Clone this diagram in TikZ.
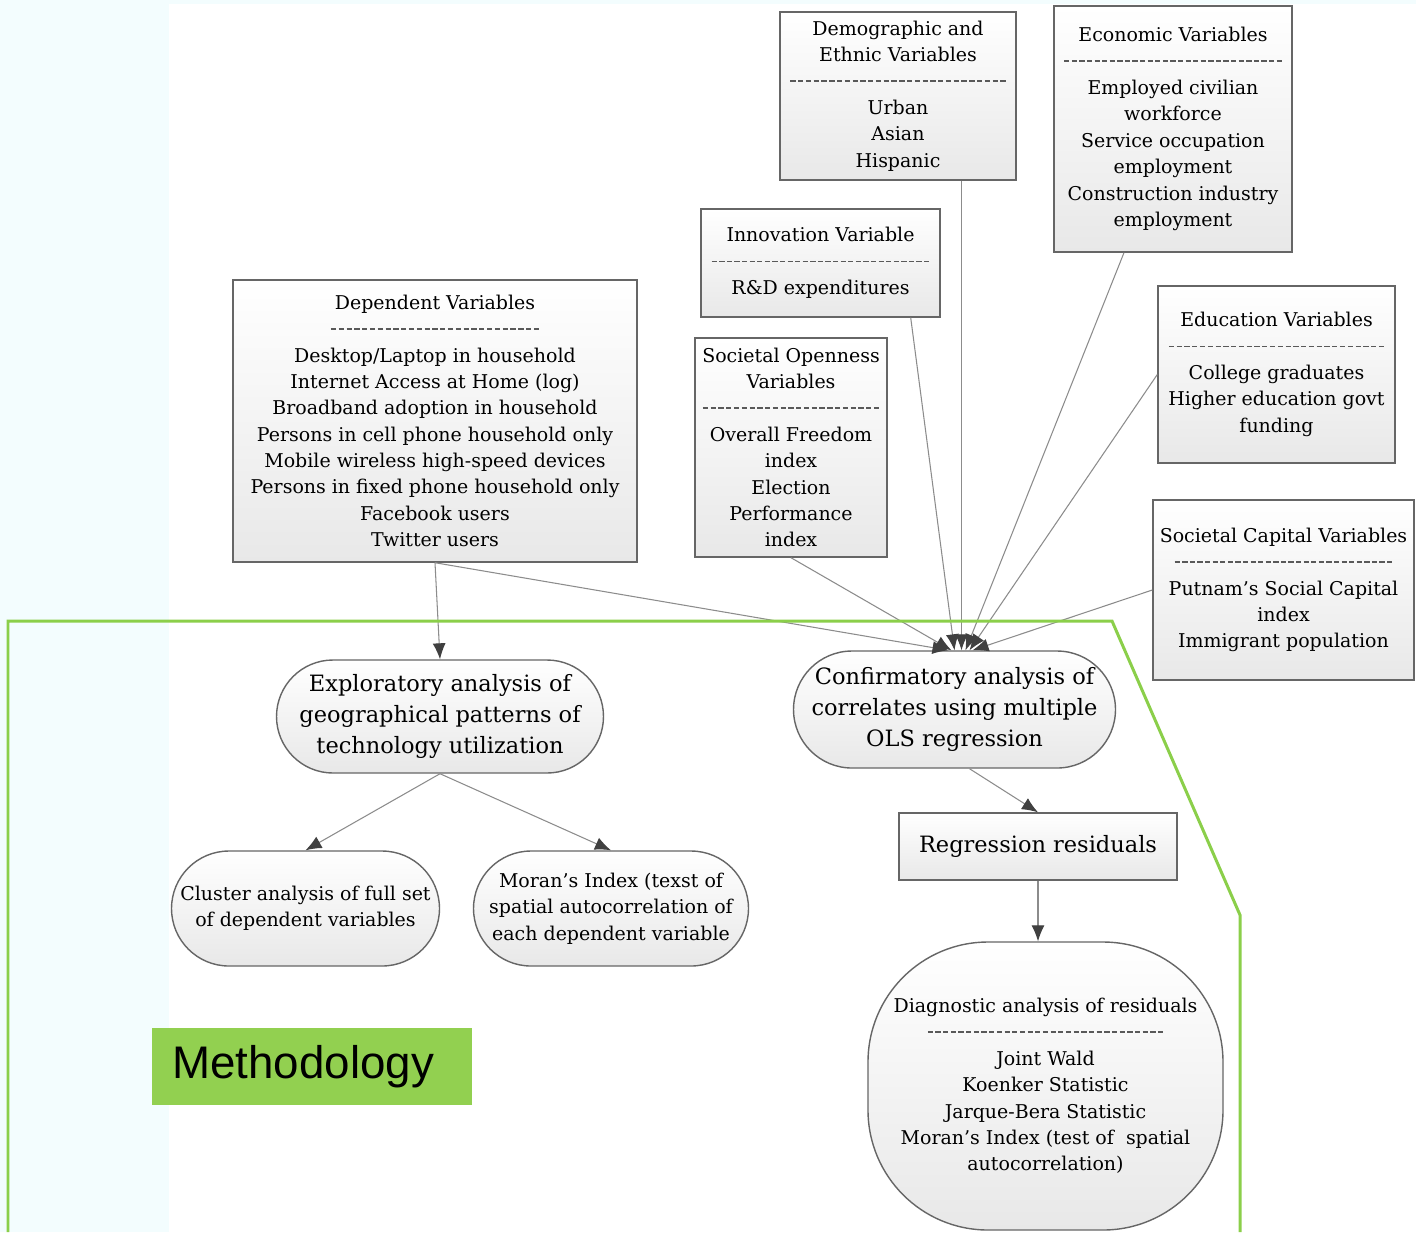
\documentclass[tikz,border=0pt]{standalone}
\usepackage{fontspec}
\setmainfont{DejaVu Serif}
\setsansfont{Liberation Sans}
\usetikzlibrary{arrows.meta,shapes.misc}

\definecolor{methgreen}{HTML}{92D050}
\definecolor{framegreen}{HTML}{8BCF4A}
\definecolor{paleblue}{HTML}{F3FDFE}
\newcommand{\sepline}[1]{\hbox to #1{\color{black!65}\xleaders\hbox to 4.3pt{\hss\rule[3.4pt]{3pt}{1pt}\hss}\hfill}}

\begin{document}
\begin{tikzpicture}[yscale=-1,
    varbox/.style={rectangle, draw=black!60, line width=0.8pt, top color=white, bottom color=black!9, align=center, inner sep=2pt, font=\fontsize{10.8}{15}\selectfont},
    ovalbox/.style={rounded rectangle, draw=black!60, line width=0.8pt, top color=white, bottom color=black!9, align=center, inner sep=2pt, font=\fontsize{10.8}{15}\selectfont},
    bigtext/.style={font=\fontsize{12.8}{17.6}\selectfont},
    methbox/.style={fill=methgreen, font=\sffamily\fontsize{26}{30}\selectfont, text width=5.6cm, align=left, inner xsep=0.4cm, inner ysep=0pt, minimum height=1.54cm},
    link/.style={draw=black!45, line width=0.6pt},
    arrow/.style={link, -{Latex[length=3.2mm, width=2.6mm, color=black!75]}}]
    \useasboundingbox (0,0) rectangle (28.32,24.64);
    \fill [white] (0,0) rectangle (28.32,24.64);
    \fill [paleblue] (0,0) rectangle (3.38,24.64);
    \fill [paleblue] (0,0) rectangle (28.32,0.08);

    \node [varbox, minimum width=8.08cm, minimum height=5.64cm] (dep) at (8.70,8.42) {Dependent Variables\\\sepline{4.22cm}\\Desktop/Laptop in household\\Internet Access at Home (log)\\Broadband adoption in household\\Persons in cell phone household only\\Mobile wireless high-speed devices\\Persons in fixed phone household only\\Facebook users\\Twitter users};
    \node [varbox, minimum width=4.72cm, minimum height=3.36cm] (dem) at (17.96,1.92) {Demographic and\\Ethnic Variables\\\sepline{4.36cm}\\Urban\\Asian\\Hispanic};
    \node [varbox, minimum width=4.76cm, minimum height=4.92cm] (econ) at (23.46,2.58) {Economic Variables\\\sepline{4.40cm}\\Employed civilian\\workforce\\Service occupation\\employment\\Construction industry\\employment};
    \node [varbox, minimum width=4.78cm, minimum height=2.16cm] (innov) at (16.41,5.26) {Innovation Variable\\\sepline{4.40cm}\\R\&D expenditures};
    \node [varbox, minimum width=4.74cm, minimum height=3.54cm] (edu) at (25.53,7.49) {Education Variables\\\sepline{4.36cm}\\College graduates\\Higher education govt\\funding};
    \node [varbox, minimum width=3.84cm, minimum height=4.38cm] (open) at (15.82,8.95) {Societal Openness\\Variables\\\sepline{3.58cm}\\Overall Freedom\\index\\Election\\Performance\\index};
    \node [varbox, minimum width=5.22cm, minimum height=3.60cm] (scap) at (25.67,11.80) {Societal Capital Variables\\\sepline{4.40cm}\\Putnam’s Social Capital\\index\\Immigrant population};

    \node [ovalbox, bigtext, minimum width=6.68cm, minimum height=2.26cm] (expl) at (8.80,14.33) {Exploratory analysis of\\geographical patterns of\\technology utilization};
    \node [ovalbox, bigtext, minimum width=6.58cm, minimum height=2.34cm] (conf) at (19.09,14.19) {Confirmatory analysis of\\correlates using multiple\\OLS regression};
    \node [varbox, bigtext, minimum width=5.56cm, minimum height=1.34cm] (regr) at (20.76,16.93) {Regression residuals};
    \node [ovalbox, minimum width=5.50cm, minimum height=2.30cm] (clus) at (6.11,18.17) {Cluster analysis of full set\\of dependent variables};
    \node [ovalbox, minimum width=5.64cm, minimum height=2.30cm] (moran) at (12.22,18.17) {Moran’s Index (texst of\\spatial autocorrelation of\\each dependent variable};
    \node [varbox, rounded corners=2.4cm, minimum width=7.10cm, minimum height=5.76cm] (diag) at (20.91,21.72) {Diagnostic analysis of residuals\\\sepline{4.76cm}\\Joint Wald\\Koenker Statistic\\Jarque-Bera Statistic\\Moran’s Index (test of~ spatial\\autocorrelation)};

    \draw [arrow] (dep.south) -- (expl.north);
    \draw [arrow] (dep.south) -- ([xshift=-0.12cm]conf.north);
    \draw [arrow] (open.south) -- ([xshift=-0.06cm]conf.north);
    \draw [arrow] ([xshift=-0.6cm]innov.south east) -- (conf.north);
    \draw [arrow] ([xshift=0.14cm]dem.south -| conf.north) -- ([xshift=0.14cm]conf.north);
    \draw [arrow] (econ) -- ([xshift=0.22cm]conf.north);
    \draw [arrow] (edu.west) -- ([xshift=0.3cm]conf.north);
    \draw [arrow] (scap.west) -- ([xshift=0.36cm]conf.north);
    \draw [arrow] (expl.south) -- (clus.north);
    \draw [arrow] (expl.south) -- (moran.north);
    \draw [arrow] ([xshift=0.3cm]conf.south) -- (regr.north);
    \draw [arrow] (regr.south) -- (regr.south |- diag.north);

    \draw [framegreen, line width=1.7pt] (0.16,24.64) -- (0.16,12.42) -- (22.24,12.42) -- (24.80,18.30) -- (24.80,24.64);
    \node [methbox, anchor=north west] (meth) at (3.04,20.56) {Methodology};
\end{tikzpicture}
\end{document}
